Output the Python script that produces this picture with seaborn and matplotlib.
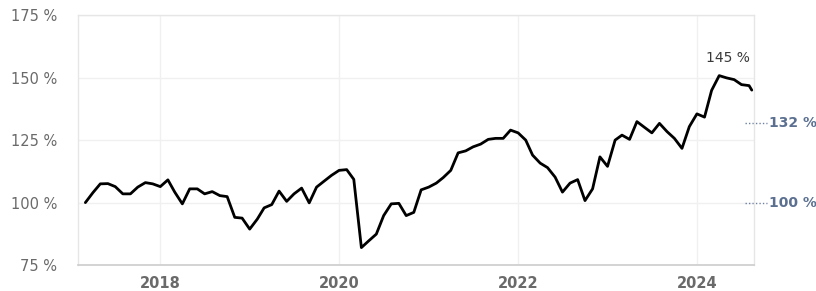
import numpy as np
import pandas as pd
import matplotlib
matplotlib.use("Agg")
import matplotlib.pyplot as plt
import matplotlib.transforms as mtransforms
import seaborn as sns

# monthly values (% of start), Mar 2017 .. Aug 2024
vals_2017 = [100, 104, 107.5, 107.6, 106.4, 103.5, 103.5, 106.2, 108, 107.5]
vals_2018 = [106.4, 109.1, 104.2, 99.5, 105.5, 105.5, 103.5, 104.4, 102.8, 102.4, 94.1, 93.8]
vals_2019 = [89.4, 93.4, 97.9, 99.2, 104.6, 100.5, 103.5, 105.8, 99.9, 106.2, 108.6, 110.9]
vals_2020 = [112.9, 113.2, 109.3, 82, 84.7, 87.4, 94.8, 99.5, 99.7, 94.8, 96.1, 105.1]
vals_2021 = [106.2, 107.8, 110, 112.9, 119.9, 120.7, 122.3, 123.4, 125.3, 125.7, 125.7, 129]
vals_2022 = [127.9, 125, 119, 115.8, 114, 110.2, 104.2, 107.8, 109.2, 100.8, 105.5, 118.3]
vals_2023 = [114.5, 125, 127, 125.3, 132.4, 130.1, 127.9, 131.7, 128.4, 125.7, 121.7, 130.4]
vals_2024 = [135.5, 134.2, 144.9, 150.8, 149.9, 149.2, 147.2, 146.8]

last_date = "2024-08-12"
last_value = 145

ref_values = [132, 100]
ref_labels = ["132 %", "100 %"]
y_ticks = [75, 100, 125, 150, 175]
x_years = [2018, 2020, 2022, 2024]

values = vals_2017 + vals_2018 + vals_2019 + vals_2020 + vals_2021 + vals_2022 + vals_2023 + vals_2024
dates = list(pd.date_range("2017-03-01", periods=len(values), freq="MS")) + [pd.Timestamp(last_date)]
values = values + [last_value]
df = pd.DataFrame({"date": dates, "value": values})

sns.set_style("white")
plt.rcParams["font.family"] = ["DejaVu Sans"]

fig = plt.figure(figsize=(8.16, 2.91), dpi=100)
ax = fig.add_axes([0.0956, 0.089, 0.829, 0.859])

sns.lineplot(data=df, x="date", y="value", ax=ax, color="black", linewidth=2.0)

ax.set_xlim(pd.Timestamp("2017-01-30"), pd.Timestamp("2024-08-23"))
ax.set_ylim(75, 175)
ax.set_yticks(y_ticks)
ax.set_yticklabels([f"{t} %" for t in y_ticks])
ax.set_xticks([pd.Timestamp(f"{y}-01-01") for y in x_years])
ax.set_xticklabels([str(y) for y in x_years])
ax.set_xlabel("")
ax.set_ylabel("")

ax.grid(True, color="#f0f0f0", linewidth=1.0)
for side in ["top", "right", "left"]:
    ax.spines[side].set_color("#e6e6e6")
    ax.spines[side].set_linewidth(1.0)
ax.spines["bottom"].set_color("#cccccc")
ax.spines["bottom"].set_linewidth(1.2)

ax.tick_params(axis="y", length=0, pad=15, labelsize=10.5, labelcolor="#6a6a6a")
ax.tick_params(axis="x", length=6, width=1.0, color="#cccccc", pad=2,
               labelsize=10.5, labelcolor="#6a6a6a")
for lab in ax.get_xticklabels():
    lab.set_fontweight("bold")

# current value label above the peak
ax.text(pd.Timestamp("2024-05-05"), 155, f"{last_value} %", ha="center", va="bottom",
        fontsize=10, color="#3a3a3a")

# reference markers on the right
trans = mtransforms.blended_transform_factory(ax.transAxes, ax.transData)
for v, lab in zip(ref_values, ref_labels):
    ax.plot([0.986, 1.018], [v, v], transform=trans, color="#6d80a3",
            linestyle=(0, (1, 1.5)), linewidth=1.0, clip_on=False)
    ax.text(1.022, v, lab, transform=trans, ha="left", va="center",
            fontsize=10, fontweight="bold", color="#5b6f90")

fig.savefig("out.png", dpi=100)
